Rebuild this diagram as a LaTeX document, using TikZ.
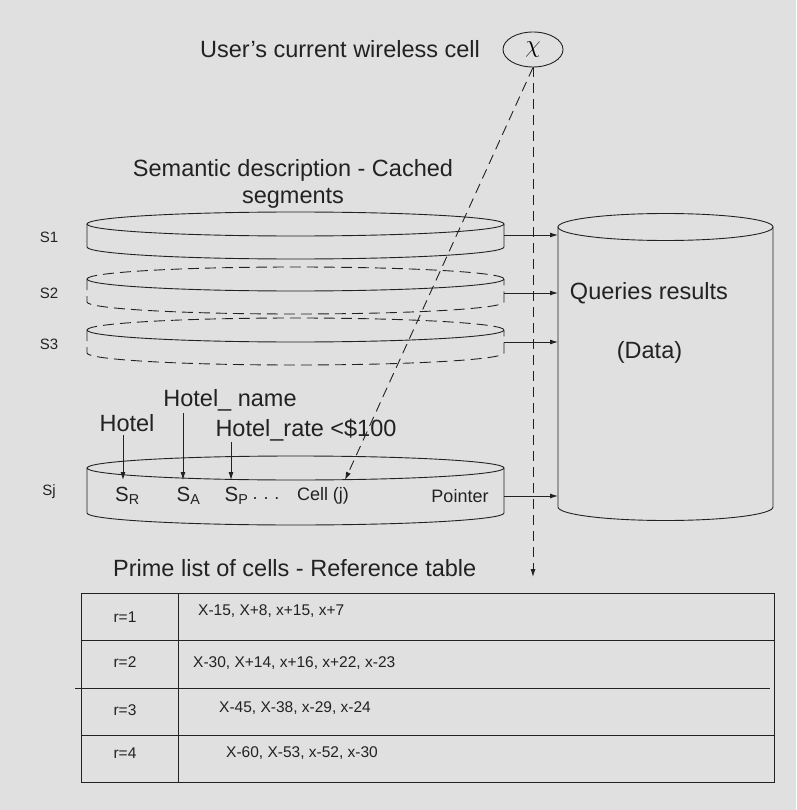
\documentclass[tikz,border=0pt]{standalone}
\usepackage{fontspec}
\setmainfont{Liberation Sans}
\usepackage{tikz}
\usetikzlibrary{arrows.meta,shapes.geometric}
\definecolor{paper}{RGB}{224,224,224}
\definecolor{ink}{RGB}{34,34,34}

\tikzset{
  bigtext/.style={font=\fontsize{23.5}{28}\selectfont, text=ink, inner sep=0pt},
  midtext/.style={font=\fontsize{18}{21}\selectfont, text=ink, inner sep=0pt},
  attrtext/.style={font=\fontsize{20.5}{24}\selectfont, text=ink, inner sep=0pt},
  tagtext/.style={font=\fontsize{15}{18}\selectfont, text=ink, inner sep=0pt},
  celltext/.style={font=\fontsize{15.5}{18}\selectfont, text=ink, inner sep=0pt},
  outline/.style={draw=ink, line width=0.9pt},
  broken/.style={outline, dash pattern=on 11pt off 6pt},
  feed/.style={draw=ink, line width=0.9pt, -{Latex[length=8pt,width=5pt]}},
  probe/.style={feed, dash pattern=on 10pt off 6pt},
}

\begin{document}
\begin{tikzpicture}[x=1pt,y=-1pt]
  \fill[paper] (0,0) rectangle (796,810);
  \useasboundingbox (0,0) rectangle (796,810);

  % user's cell
  \node[bigtext] (usercell) at (340,49) {User's current wireless cell};
  \node[ellipse, outline, minimum width=60pt, minimum height=35pt,
    inner sep=0pt] (chi) at (533,49.5) {\fontsize{26}{28}\selectfont$\chi$};

  % cached segments
  \node[bigtext] (semtitle) at (293,170) {Semantic description - Cached};
  \node[bigtext] (semsub) at (293,198) {segments};

  \draw[outline] (295.5,224) ellipse [x radius=208.5, y radius=12];
  \draw[outline] (87,224) -- (87,247)
    arc[start angle=180, end angle=0, x radius=208.5, y radius=12] -- (504,224);
  \foreach \top in {279,330}{
    \draw[broken] (87,\top)
      arc[start angle=180, end angle=360, x radius=208.5, y radius=12];
    \draw[outline] (87,\top)
      arc[start angle=180, end angle=0, x radius=208.5, y radius=12];
    \draw[broken] (87,\top) -- (87,\top+23)
      arc[start angle=180, end angle=0, x radius=208.5, y radius=12] -- (504,\top);
  }
  \draw[outline] (295.5,468) ellipse [x radius=208.5, y radius=12];
  \draw[outline] (87,468) -- (87,513)
    arc[start angle=180, end angle=0, x radius=208.5, y radius=12] -- (504,468);

  \node[tagtext] (tag1) at (49,237) {S1};
  \node[tagtext] (tag2) at (49,293) {S2};
  \node[tagtext] (tag3) at (49,344) {S3};
  \node[tagtext] (tagj) at (49,492) {Sj};

  % query results store
  \draw[outline] (665.5,227) ellipse [x radius=107.5, y radius=13.5];
  \draw[outline] (558,227) -- (558,507)
    arc[start angle=180, end angle=0, x radius=107.5, y radius=13.5] -- (773,227);
  \coordinate (storeleft) at (558,227);
  \node[bigtext] (queries) at (649,293) {Queries results};
  \node[bigtext] (data) at (649.5,352) {(Data)};

  \coordinate (out1) at (504,235);
  \coordinate (out2) at (504,293);
  \coordinate (out3) at (504,342);
  \coordinate (outj) at (504,496);
  \foreach \s in {1,2,3,j}
    \draw[feed] (out\s) -- (out\s -| storeleft);

  % segment Sj content
  \node[attrtext] (sR) at (127.5,496) {S\textsubscript{R}};
  \node[attrtext] (sA) at (188.5,496) {S\textsubscript{A}};
  \node[attrtext] (sP) at (236.5,496) {S\textsubscript{P}};
  \node[midtext] (dots) at (266,499) {.\,\,.\,\,.};
  \node[midtext] (cellj) at (323,496) {Cell (j)};
  \node[midtext] (pointer) at (460,496) {Pointer};

  \node[bigtext] (hotel) at (127,423) {Hotel};
  \node[bigtext] (hname) at (230,400) {Hotel\_ name};
  \node[bigtext] (hrate) at (306,430) {Hotel\_rate <\$100};
  \coordinate (rimR) at (123,480);
  \coordinate (rimA) at (183,480);
  \coordinate (rimP) at (231,480);
  \draw[feed, shorten <=3pt] (hotel.south -| rimR) -- (rimR);
  \draw[feed, shorten <=2pt] (hname.south -| rimA) -- (rimA);
  \draw[feed, shorten <=1pt] (hrate.south -| rimP) -- (rimP);

  % links from the user's cell
  \coordinate (rimJ) at (345,480);
  \coordinate (tablehit) at (533,577);
  \draw[probe] (chi.south) -- (rimJ);
  \draw[probe] (chi.south) -- (tablehit);

  % reference table
  \node[bigtext, anchor=west] (tabletitle) at (113,568)
    {Prime list of cells - Reference table};
  \draw[outline] (81,593) rectangle (774,782);
  \draw[outline] (178,593) -- (178,782);
  \draw[outline] (81,640) -- (774,640);
  \draw[outline] (75,688) -- (770,688);
  \draw[outline] (81,735) -- (774,735);
  \foreach \r/\ly/\ty/\tx/\cells in {
      1/617/611/198/{X-15, X+8, x+15, x+7},
      2/662/663/193/{X-30, X+14, x+16, x+22, x-23},
      3/710/708/219/{X-45, X-38, x-29, x-24},
      4/753/753/226/{X-60, X-53, x-52, x-30}}{
    \node[celltext] (r\r) at (125,\ly) {r=\r};
    \node[celltext, anchor=west] (list\r) at (\tx,\ty) {\cells};
  }
\end{tikzpicture}
\end{document}
